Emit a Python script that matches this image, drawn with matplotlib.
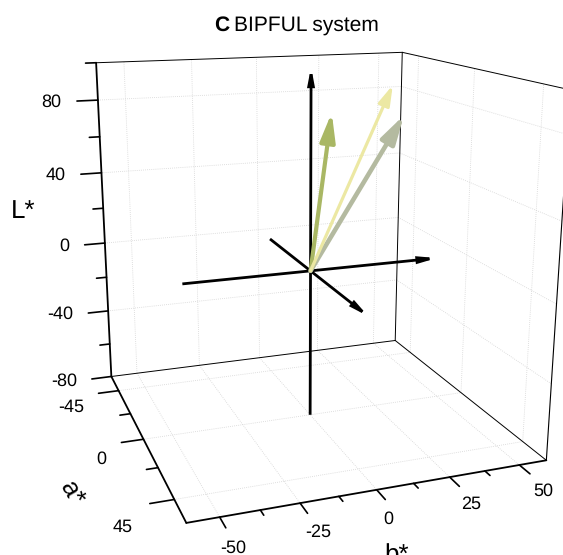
import numpy as np
import matplotlib
matplotlib.use("Agg")
import matplotlib.pyplot as plt
from matplotlib.patches import FancyArrowPatch
from mpl_toolkits.mplot3d import proj3d

plt.rcParams["font.family"] = ["Liberation Sans", "DejaVu Sans"]
plt.rcParams["text.hinting"] = "no_hinting"
plt.rcParams["text.hinting_factor"] = 1

W, H = 563, 555

# limits of the box
B_LIM = [-60, 60]
A_LIM = [-60, 60]
L_LIM = [-80, 100]

# ticks
B_MAJOR = [-50, -25, 0, 25, 50]
B_MINOR = [-37.5, -12.5, 12.5, 37.5]
A_MAJOR = [-45, 0, 45]
A_MINOR = [-22.5, 22.5]
L_MAJOR = [-80, -40, 0, 40, 80]
L_MINOR = [-60, -20, 20, 60, 100]

# black axis lines
AXIS_B = [-45, 48]
AXIS_A = [-45, 51]
AXIS_L = [-80, 104]

# colour vectors
VEC_NAMES = ["green", "grey", "yellow"]
VEC_B = [11.2, 39.3, 32.9]
VEC_A = [-10, -12, -8]
VEC_L = [78.6, 74.8, 91.7]
VEC_COLORS = ["#A9B764", "#B4BAA0", "#ECE8A3"]
VEC_WIDTHS = [3.0, 3.3, 2.3]
VEC_HEADS = ["-|>,head_length=17,head_width=4.5",
             "-|>,head_length=17,head_width=4.6",
             "-|>,head_length=12,head_width=3.5"]


class Arrow3D(FancyArrowPatch):
    def __init__(self, xs, ys, zs, **kw):
        super().__init__((0, 0), (0, 0), shrinkA=0, shrinkB=0, mutation_scale=1, **kw)
        self._verts3d = xs, ys, zs

    def do_3d_projection(self, renderer=None):
        x, y, z = proj3d.proj_transform(*self._verts3d, self.axes.M)
        self.set_positions((x[0], y[0]), (x[1], y[1]))
        return np.min(z)


def seg(ax, p, q, lw=0.8, color="black", ls="-"):
    ax.plot([p[0], q[0]], [p[1], q[1]], [p[2], q[2]], color=color, lw=lw, ls=ls,
            clip_on=False, solid_capstyle="round")


def arrow(ax, p, q, style, lw, color, z, **kw):
    a = Arrow3D([p[0], q[0]], [p[1], q[1]], [p[2], q[2]], arrowstyle=style, lw=lw,
                color=color, clip_on=False, zorder=z, **kw)
    ax.add_artist(a)


def label(ax, b, a, L, s, **kw):
    x, y, _ = proj3d.proj_transform(b, a, L, ax.get_proj())
    ax.text2D(x, y, s, transform=ax.transData, clip_on=False, color="black", **kw)


fig = plt.figure(figsize=(W / 100, H / 100), dpi=100)
ax = fig.add_axes([7.2 / W, -0.5 / H, 590.8 / W, 590.8 / H], projection="3d")
ax.set_xlim(*B_LIM, view_margin=0)
ax.set_ylim(A_LIM[1], A_LIM[0], view_margin=0)
ax.set_zlim(*L_LIM, view_margin=0)
ax.view_init(elev=15.646, azim=-110.0657, roll=-0.157)
ax.set_proj_type("persp", focal_length=0.3509)
ax.set_box_aspect((1, 0.9977, 1.0023))
ax.set_axis_off()
ax.computed_zorder = False

b0, b1 = B_LIM
a0, a1 = A_LIM
l0, l1 = L_LIM

# dotted grid on floor and the two back walls
grid = dict(lw=0.6, color="#d4d4d4", ls=(0, (1, 1.5)))
for b in B_MAJOR:
    seg(ax, (b, a0, l0), (b, a1, l0), **grid)
    seg(ax, (b, a0, l0), (b, a0, l1), **grid)
for a in A_MAJOR:
    seg(ax, (b0, a, l0), (b1, a, l0), **grid)
    seg(ax, (b1, a, l0), (b1, a, l1), **grid)
for L in L_MAJOR[1:]:
    seg(ax, (b0, a0, L), (b1, a0, L), **grid)
    seg(ax, (b1, a0, L), (b1, a1, L), **grid)

# box
seg(ax, (b0, a0, l0), (b0, a0, l1), lw=1.3)
seg(ax, (b0, a0, l0), (b0, a1, l0), lw=1.3)
seg(ax, (b0, a1, l0), (b1, a1, l0), lw=1.3)
seg(ax, (b0, a0, l0), (b1, a0, l0), lw=0.7)
seg(ax, (b1, a0, l0), (b1, a1, l0), lw=0.7)
seg(ax, (b1, a0, l0), (b1, a0, l1), lw=0.7)
seg(ax, (b1, a1, l0), (b1, a1, l1), lw=0.8)
seg(ax, (b0, a0, l1), (b1, a0, l1), lw=0.7)
seg(ax, (b1, a0, l1), (b1, a1, l1), lw=0.7)

# ticks
for L in L_MAJOR:
    seg(ax, (b0, a0, L), (b0 - 7.5, a0, L), lw=1.2)
for L in L_MINOR:
    seg(ax, (b0, a0, L), (b0 - 3.75, a0, L), lw=1.2)
for a in A_MAJOR:
    seg(ax, (b0, a, l0), (b0 - 7.5, a, l0), lw=1.2)
for a in A_MINOR:
    seg(ax, (b0, a, l0), (b0 - 3.75, a, l0), lw=1.2)
for b in B_MAJOR:
    seg(ax, (b, a1, l0), (b, a1 + 6.6, l0), lw=1.2)
for b in B_MINOR:
    seg(ax, (b, a1, l0), (b, a1 + 3.3, l0), lw=1.2)

# tick labels
tick_fs = 13.2
for L in L_MAJOR:
    label(ax, b0 - 13, a0, L, str(L), ha="right", va="center", fontsize=tick_fs)
for a, db, da in zip(A_MAJOR, (-18, -15, -17), (3, 4.5, 6.5)):
    label(ax, b0 + db, a + da, l0 - 4, str(a), ha="center", va="center", fontsize=tick_fs)
for b, db in zip(B_MAJOR, (-1.2, -1, -4, -2, -2)):
    label(ax, b + db, a1 + 18, l0, str(b), ha="center", va="center", fontsize=tick_fs)

# axis labels
label(ax, b0 - 29, a0, 22, "L*", ha="center", va="center", fontsize=19)
label(ax, b0 - 28, 23, l0 - 6, "a*", ha="center", va="center", fontsize=19, rotation=-60)
label(ax, -8, a1 + 33, l0 - 4, "b*", ha="center", va="center", fontsize=19)

# black axes with arrow heads
black_head = "-|>,head_length=9,head_width=1.7"
black = dict(joinstyle="miter", capstyle="butt")
arrow(ax, (AXIS_B[0], 0, 0), (AXIS_B[1], 0, 0), black_head, 2.0, "black", 5, **black)
arrow(ax, (0, AXIS_A[0], 0), (0, AXIS_A[1], 0), black_head, 2.0, "black", 5, **black)
arrow(ax, (0, 0, AXIS_L[0]), (0, 0, AXIS_L[1]), black_head, 2.0, "black", 5, **black)

for i in range(len(VEC_NAMES)):
    arrow(ax, (0, 0, 0), (VEC_B[i], VEC_A[i], VEC_L[i]), VEC_HEADS[i], VEC_WIDTHS[i],
          VEC_COLORS[i], 6 + i)

fig.text(214 / W, 1 - 25 / H, "C", fontsize=15.3, fontweight="bold", va="center")
fig.text(234 / W, 1 - 25 / H, "BIPFUL system", fontsize=15.3, va="center")

fig.savefig("out.png", dpi=100)
